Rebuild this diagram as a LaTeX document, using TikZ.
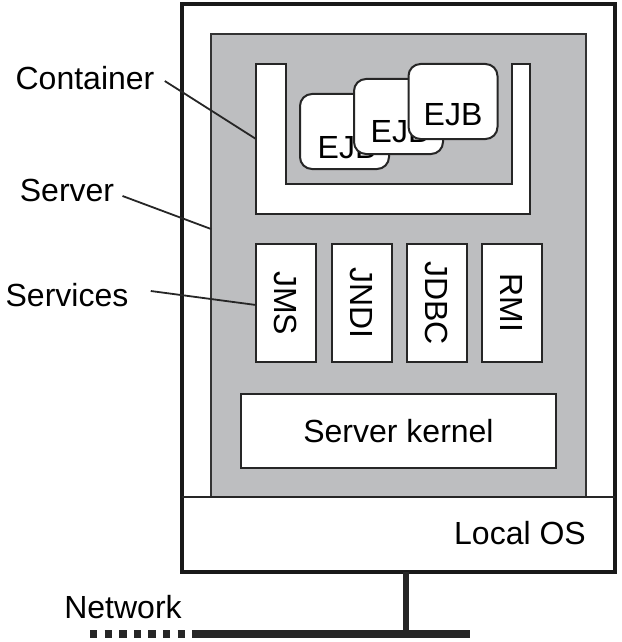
\documentclass[tikz,border=0pt]{standalone}
\usepackage{fontspec}
\setmainfont{Liberation Sans}
\usepackage{tikz}
\usetikzlibrary{positioning,calc}
\definecolor{servergray}{HTML}{BDBEC0}
\tikzset{
  labeltext/.style={font=\fontsize{16}{19}\selectfont,inner sep=0pt},
  whitebox/.style={draw=black!85,fill=white,line width=1pt,inner sep=0pt},
  servicebox/.style={whitebox,rotate=-90,minimum width=59pt,minimum height=30pt,
    font=\fontsize{16}{19}\selectfont},
  ejbbox/.style={whitebox,rounded corners=6pt,minimum width=44.5pt,minimum height=37.5pt},
  leader/.style={line width=0.9pt,draw=black!85}
}
\begin{document}
\begin{tikzpicture}[x=0.5pt,y=-0.5pt]
  \useasboundingbox (0,0) rectangle (621,642);
  % machine and server
  \draw[line width=2pt,draw=black!90,fill=white] (182,4) rectangle (615,572);
  \draw[line width=1pt,draw=black!80,fill=servergray] (211,34) rectangle (586,497);
  \draw[line width=1pt,draw=black!85] (182,497) -- (615,497);
  \node[labeltext] (localos) at (520,533) {Local OS};

  % container
  \draw[whitebox] (256,64) -- (286,64) -- (286,184) -- (512,184) -- (512,64)
    -- (530,64) -- (530,214) -- (256,214) -- cycle;
  \node[ejbbox] (ejba) at (344.5,131.5) {};
  \node[labeltext] at (347,148) {EJB};
  \node[ejbbox] (ejbb) at (398.5,116.5) {};
  \node[labeltext] at (400,132) {EJB};
  \node[ejbbox] (ejbc) at (453,101.5) {};
  \node[labeltext] at (453,115) {EJB};

  % services
  \node[servicebox] (jms) at (286,303) {JMS};
  \node[servicebox] (jndi) at (361.5,303) {JNDI};
  \node[servicebox] (jdbc) at (437,303) {JDBC};
  \node[servicebox] (rmi) at (512,303) {RMI};
  \node[whitebox,minimum width=157.5pt,minimum height=37pt,
    font=\fontsize{16}{19}\selectfont] (kernel) at (398.5,431) {Server kernel};

  % labels on the left
  \node[labeltext] (lblcontainer) at (85,78) {Container};
  \node[labeltext] (lblserver) at (67,190) {Server};
  \node[labeltext] (lblservices) at (67,295) {Services};
  \coordinate (ctrtip) at (256,139);
  \coordinate (srvtip) at (211,229);
  \coordinate (svctip) at (256,305);
  \draw[leader] ([xshift=5pt,yshift=-1.5pt]lblcontainer.east) -- (ctrtip);
  \draw[leader] ([xshift=4pt,yshift=-3pt]lblserver.east) -- (srvtip);
  \draw[leader] ([xshift=11pt,yshift=2pt]lblservices.east) -- (svctip);

  % network
  \node[labeltext] (lblnetwork) at (123,607) {Network};
  \coordinate (stemtop) at (406,572);
  \coordinate (tap) at (406,634);
  \coordinate (netleft) at (197,634);
  \coordinate (netright) at (470,634);
  \coordinate (netfar) at (90,634);
  \draw[line width=3pt,draw=black!85] (stemtop) -- (tap);
  \draw[line width=3.6pt,draw=black!85] (netleft) -- (netright);
  \draw[line width=3.6pt,draw=black!85,dash pattern=on 3.7pt off 3.6pt] (netfar) -- (netleft);
\end{tikzpicture}
\end{document}
